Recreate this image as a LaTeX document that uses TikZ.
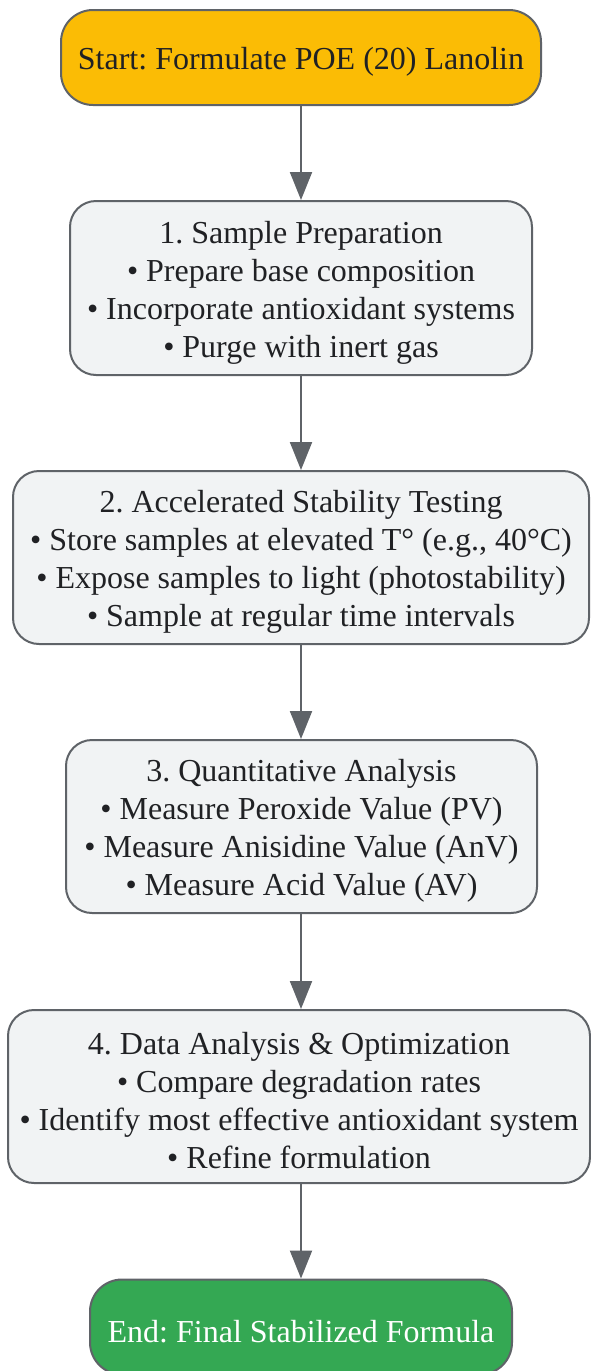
\documentclass[tikz,border=0pt]{standalone}
\usepackage{fontspec}
\setmainfont{Liberation Serif}
\frenchspacing
\usetikzlibrary{arrows.meta}
\definecolor{edge}{HTML}{5F6368}
\definecolor{boxfill}{HTML}{F1F3F4}
\definecolor{startfill}{HTML}{FBBC05}
\definecolor{endfill}{HTML}{34A853}
\definecolor{txt}{HTML}{202124}
\newcommand{\topstrut}{\rule{0pt}{31pt}}
\tikzset{
  x=1pt, y=-1pt,
  every node/.style={font=\fontsize{32}{38}\selectfont, align=center, inner sep=0pt},
  box/.style={draw=edge, line width=2pt, fill=boxfill, rounded corners=26pt, text=txt},
  startbox/.style={draw=edge, line width=2pt, fill=startfill, rounded corners=32pt, text=txt},
  endbox/.style={draw=edge, line width=2pt, fill=endfill, rounded corners=32pt, text=white},
  flow/.style={draw=edge, line width=2pt, -{Triangle[width=22pt,length=28pt]}}
}
\begin{document}
\begin{tikzpicture}
\useasboundingbox (0,0) rectangle (591,1371);
\node[startbox, minimum width=480pt, minimum height=95pt] (start) at (301,57.5) {\topstrut Start: Formulate POE (20) Lanolin};
\node[box, minimum width=462pt, minimum height=174pt] (s1) at (301,288) {\topstrut 1. Sample Preparation\\ • Prepare base composition\\ • Incorporate antioxidant systems\\ • Purge with inert gas};
\node[box, minimum width=576pt, minimum height=173pt] (s2) at (301,557.5) {\topstrut 2. Accelerated Stability Testing\\ • Store samples at elevated T° (e.g., 40°C)\\ • Expose samples to light (photostability)\\ • Sample at regular time intervals};
\node[box, minimum width=471pt, minimum height=173pt] (s3) at (301.5,826.5) {\topstrut 3. Quantitative Analysis\\ • Measure Peroxide Value (PV)\\ • Measure Anisidine Value (AnV)\\ • Measure Acid Value (AV)};
\node[box, minimum width=582pt, minimum height=173pt] (s4) at (299,1096.5) {\topstrut 4. Data Analysis \& Optimization\\ • Compare degradation rates\\ • Identify most effective antioxidant system\\ • Refine formulation};
\node[endbox, minimum width=422pt, minimum height=95pt] (end) at (301,1327) {\topstrut End: Final Stabilized Formula};
\draw[flow] (start.south -| 301,0) -- (s1.north -| 301,0);
\draw[flow] (s1.south -| 301,0) -- (s2.north -| 301,0);
\draw[flow] (s2.south -| 301,0) -- (s3.north -| 301,0);
\draw[flow] (s3.south -| 301,0) -- (s4.north -| 301,0);
\draw[flow] (s4.south -| 301,0) -- (end.north -| 301,0);
\end{tikzpicture}
\end{document}
